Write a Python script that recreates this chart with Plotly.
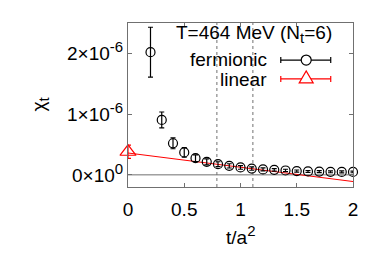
import plotly.graph_objects as go

# fermionic data
t_ferm = [0.2, 0.3, 0.4, 0.5, 0.6, 0.7, 0.8, 0.9, 1.0, 1.1, 1.2, 1.3, 1.4, 1.5, 1.6, 1.7, 1.8, 1.9, 2.0]
chi_ferm = [2.02e-6, 0.905e-6, 0.52e-6, 0.37e-6, 0.275e-6, 0.214e-6, 0.176e-6, 0.148e-6, 0.122e-6,
            0.104e-6, 0.09e-6, 0.082e-6, 0.072e-6, 0.062e-6, 0.056e-6, 0.054e-6, 0.05e-6, 0.049e-6, 0.049e-6]
err_ferm = [0.41e-6, 0.13e-6, 0.09e-6, 0.08e-6, 0.055e-6, 0.05e-6, 0.04e-6, 0.035e-6, 0.03e-6,
            0.028e-6, 0.025e-6, 0.022e-6, 0.02e-6, 0.018e-6, 0.016e-6, 0.016e-6, 0.015e-6, 0.015e-6, 0.014e-6]

# linear extrapolation
t_lin = [0.0]
chi_lin = [0.38e-6]
err_lin = [0.11e-6]
fit_x = [0.0, 2.0]
fit_y = [0.36e-6, -0.11e-6]

# reference lines
vlines = [0.79, 1.11]

ytick_vals = [0, 1e-6, 2e-6]
ytick_mant = ["0", "1", "2"]
ytick_exp = ["0", "-6", "-6"]
xtick_vals = [0, 0.5, 1, 1.5, 2]
xtick_text = ["0", "0.5", "1", "1.5", "2"]

FONT = "Liberation Sans, Arial, sans-serif"
FS = 19
GRAY = "#707070"


def sup(s):
    return "<sup><span style='font-size:15px'>" + s + "</span></sup>"


def sub(s):
    return "<sub><span style='font-size:15px'>" + s + "</span></sub>"


ytick_text = [m + "×10" + sup(e) for m, e in zip(ytick_mant, ytick_exp)]

fig = go.Figure()

fig.add_trace(go.Scatter(x=fit_x, y=fit_y, mode="lines",
                         line=dict(color="red", width=1), showlegend=False, hoverinfo="skip"))

fig.add_trace(go.Scatter(
    x=t_ferm, y=chi_ferm, mode="markers",
    marker=dict(symbol="circle-open", size=9, color="black", line=dict(width=1.2, color="black")),
    error_y=dict(type="data", array=err_ferm, color="black", thickness=1.2, width=2.5),
    showlegend=False, cliponaxis=False))

fig.add_trace(go.Scatter(
    x=t_lin, y=chi_lin, mode="markers",
    marker=dict(symbol="triangle-up-open", size=14, color="red", line=dict(width=1.2, color="red")),
    error_y=dict(type="data", array=err_lin, color="red", thickness=1.2, width=3),
    showlegend=False, cliponaxis=False))

shapes = []
for xv in vlines:
    shapes.append(dict(type="line", xref="x", yref="paper", x0=xv, x1=xv, y0=0, y1=1,
                       line=dict(color=GRAY, width=1, dash="dot"), layer="below"))
shapes.append(dict(type="line", xref="x", yref="y", x0=0, x1=2, y0=0, y1=0,
                   line=dict(color=GRAY, width=1), layer="below"))

# legend keys
lx0, lx1, lxc = 0.679, 0.901, 0.792
for yy, col in [(0.774, "black"), (0.659, "red")]:
    shapes.append(dict(type="line", xref="paper", yref="paper", x0=lx0, x1=lx1, y0=yy, y1=yy,
                       line=dict(color=col, width=1.2)))
    for xe in (lx0, lx1):
        shapes.append(dict(type="line", xref="paper", yref="paper", xsizemode="pixel", ysizemode="pixel",
                           xanchor=xe, yanchor=yy, x0=0, x1=0, y0=-3, y1=3,
                           line=dict(color=col, width=1.2)))
shapes.append(dict(type="circle", xref="paper", yref="paper", xsizemode="pixel", ysizemode="pixel",
                   xanchor=lxc, yanchor=0.774, x0=-5, x1=5, y0=-5, y1=5,
                   line=dict(color="black", width=1.2), fillcolor="white"))
shapes.append(dict(type="path", xref="paper", yref="paper", xsizemode="pixel", ysizemode="pixel",
                   xanchor=lxc, yanchor=0.659, path="M -7,-4 L 7,-4 L 0,8 Z",
                   line=dict(color="red", width=1.2), fillcolor="white"))

tf = dict(size=FS, color="black", family=FONT)
annotations = [
    dict(text="T=464 MeV (N" + sub("t") + "=6)", xref="paper", yref="paper", x=0.56, y=0.935,
         xanchor="center", yanchor="middle", showarrow=False, font=tf),
    dict(text="fermionic", xref="paper", yref="paper", x=0.627, y=0.78,
         xanchor="right", yanchor="middle", showarrow=False, font=tf),
    dict(text="linear", xref="paper", yref="paper", x=0.627, y=0.653,
         xanchor="right", yanchor="middle", showarrow=False, font=tf),
    dict(text="t/a" + sup("2"), xref="paper", yref="paper", x=0.498, y=-0.293,
         xanchor="center", yanchor="middle", showarrow=False, font=tf),
    dict(text="χ" + sub("t"), xref="paper", yref="paper", x=-0.389, y=0.506, textangle=-90,
         xanchor="center", yanchor="middle", showarrow=False, font=tf),
]

# page body has an 8px default margin; compensate so the plot area sits where the reference has it
fig.update_layout(
    width=374, height=259,
    margin=dict(l=120, r=29, t=15, b=80),
    paper_bgcolor="white", plot_bgcolor="white",
    font=dict(family=FONT, size=FS, color="black"),
    shapes=shapes, annotations=annotations,
    xaxis=dict(range=[0, 2], tickvals=xtick_vals, ticktext=xtick_text,
               showgrid=False, zeroline=False, showline=True, mirror="allticks",
               linecolor=GRAY, linewidth=1, ticks="inside", ticklen=4, tickcolor=GRAY,
               ticklabelstandoff=5,
               tickfont=dict(size=FS, family=FONT, color="black")),
    yaxis=dict(range=[-0.2e-6, 2.5e-6], tickvals=ytick_vals, ticktext=ytick_text,
               showgrid=False, zeroline=False, showline=True, mirror="allticks",
               linecolor=GRAY, linewidth=1, ticks="inside", ticklen=4, tickcolor=GRAY,
               tickfont=dict(size=FS, family=FONT, color="black")),
)

fig.write_html("out.html")
